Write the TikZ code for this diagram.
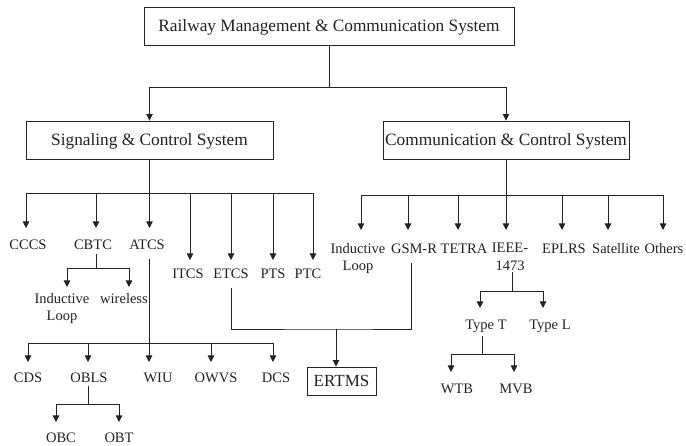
\documentclass[tikz,border=0pt]{standalone}
\usepackage{fontspec}
\setmainfont{Liberation Serif}
\usetikzlibrary{arrows.meta}
\definecolor{ink}{HTML}{222222}
\begin{document}
\begin{tikzpicture}[x=1pt,y=-1pt,
  every node/.style={text=ink},
  wire/.style={draw=ink, line width=0.9pt},
  arr/.style={wire, -{Triangle[length=6.5pt,width=6.5pt]}, shorten >=#1},
  arr/.default=0pt,
  frame/.style={draw=ink, line width=0.9pt, fill=white,
    font=\fontsize{17.3}{20}\selectfont, text height=11.4pt, text depth=0pt,
    inner sep=0pt, minimum height=38pt},
  lbl/.style={font=\fontsize{14.5}{17.5}\selectfont, inner sep=0pt,
    text height=10pt, text depth=3pt, anchor=north},
  lbltwo/.style={font=\fontsize{14.5}{17.5}\selectfont, inner sep=0pt,
    align=center, anchor=north},
]
\useasboundingbox (0,0) rectangle (686,446);

% main boxes
\node[frame, minimum width=370pt] (rmcs) at (329,26.2) {Railway Management \& Communication System};
\node[frame, minimum width=247pt] (scs) at (149.5,140) {Signaling \& Control System};
\node[frame, minimum width=246pt] (ccs) at (506,140) {Communication \& Control System};

\coordinate (topbus) at (329,87);
\draw[wire] (rmcs.south) -- (topbus);
\draw[arr] (topbus) -| (scs.north);
\draw[arr] (topbus) -| (ccs.north);

% signaling branch
\node[lbl] (cccs) at (28,239) {CCCS};
\node[lbl] (cbtc) at (93,239) {CBTC};
\node[lbl] (atcs) at (147,239) {ATCS};
\node[lbl] (itcs) at (188,268) {ITCS};
\node[lbl] (etcs) at (231,268) {ETCS};
\node[lbl] (pts) at (273,268) {PTS};
\node[lbl] (ptc) at (308,268) {PTC};

\coordinate (sigbus) at (149.5,193);
\draw[arr=11] (scs.south) -- (scs.south |- atcs.north);
\draw[arr=11] (sigbus) -| ([xshift=-2pt]cccs.north);
\draw[arr=11] (sigbus) -| ([xshift=3pt]cbtc.north);
\draw[arr=8] (sigbus) -| ([xshift=2pt]itcs.north);
\draw[arr=8] (sigbus) -| (etcs.north);
\draw[arr=8] (sigbus) -| (pts.north);
\draw[arr=8] (sigbus) -| ([xshift=5pt]ptc.north);

% CBTC
\node[lbltwo] (indsig) at (62,293) {Inductive\\Loop};
\node[lbl] (wireless) at (124,293) {wireless};
\coordinate (cbtcbus) at (96,268);
\draw[wire, shorten <=2pt] ([xshift=3pt]cbtc.south) -- (cbtcbus);
\draw[arr=6] (cbtcbus) -| ([xshift=5pt]indsig.north);
\draw[arr=6] (cbtcbus) -| ([xshift=5pt]wireless.north);

% ATCS
\node[lbl] (cds) at (28,372) {CDS};
\node[lbl] (obls) at (89,372) {OBLS};
\node[lbl] (wiu) at (158,372) {WIU};
\node[lbl] (owvs) at (216,372) {OWVS};
\node[lbl] (dcs) at (276,372) {DCS};
\coordinate (atcsbus) at (149,343);
\draw[arr=10, shorten <=7pt] ([xshift=2pt]atcs.south) -- ([xshift=2pt]atcs.south |- wiu.north);
\draw[arr=10] (atcsbus) -| (cds.north);
\draw[arr=10] (atcsbus) -| ([xshift=-1pt]obls.north);
\draw[arr=10] (atcsbus) -| ([xshift=-5pt]owvs.north);
\draw[arr=10] (atcsbus) -| ([xshift=-3pt]dcs.north);

% OBLS
\node[lbl] (obc) at (61,432) {OBC};
\node[lbl] (obt) at (119,432) {OBT};
\coordinate (oblsbus) at (88,404);
\draw[wire, shorten <=1pt] ([xshift=-1pt]obls.south) -- (oblsbus);
\draw[arr=10] (oblsbus) -| ([xshift=-5pt]obc.north);
\draw[arr=10] (oblsbus) -| (obt.north);

% communication branch
\node[lbltwo] (indcomm) at (358,243) {Inductive\\Loop};
\node[lbl] (gsmr) at (414,243) {GSM-R};
\node[lbl] (tetra) at (464,243) {TETRA};
\node[lbltwo] (ieee) at (510,243) {IEEE-\\1473};
\node[lbl] (eplrs) at (564,243) {EPLRS};
\node[lbl] (sat) at (616,243) {Satellite};
\node[lbl] (others) at (664,243) {Others};

\coordinate (commbus) at (506,195);
\draw[arr=13] (ccs.south) -- (ccs.south |- ieee.north);
\draw[arr=13] (commbus) -| ([xshift=3pt]indcomm.north);
\draw[arr=13] (commbus) -| ([xshift=-6pt]gsmr.north);
\draw[arr=13] (commbus) -| ([xshift=-6pt]tetra.north);
\draw[arr=13] (commbus) -| ([xshift=-2pt]eplrs.north);
\draw[arr=13] (commbus) -| ([xshift=-8pt]sat.north);
\draw[arr=13] (commbus) -| ([xshift=-1pt]others.north);

% IEEE-1473
\node[lbl] (typet) at (486,319) {Type T};
\node[lbl] (typel) at (550,319) {Type L};
\coordinate (ieeebus) at (512,291);
\draw[wire, shorten <=1.5pt] ([xshift=2pt]ieee.south) -- (ieeebus);
\draw[arr=11] (ieeebus) -| ([xshift=-6pt]typet.north);
\draw[arr=11] (ieeebus) -| ([xshift=-7pt]typel.north);

\node[lbl] (wtb) at (457,383) {WTB};
\node[lbl] (mvb) at (516,383) {MVB};
\coordinate (typetbus) at (482,354);
\draw[wire, shorten <=4pt] ([xshift=-4pt]typet.south) -- (typetbus);
\draw[arr=11] (typetbus) -| ([xshift=-6pt]wtb.north);
\draw[arr=11] (typetbus) -| ([xshift=-2pt]mvb.north);

% ERTMS
\node[draw=ink, line width=0.9pt, font=\fontsize{17}{20}\selectfont,
  minimum width=69pt, minimum height=28pt, inner sep=0pt,
  text height=11.2pt, text depth=0pt] (ertms) at (341.5,381) {ERTMS};
\coordinate (ertmsjoin) at (336,329);
\draw[wire, shorten <=7pt, shorten >=7pt] (etcs.south) |- (ertmsjoin) -| ([xshift=-3pt]gsmr.south);
\draw[arr] (ertmsjoin) -- (ertmsjoin |- ertms.north);
\end{tikzpicture}
\end{document}
